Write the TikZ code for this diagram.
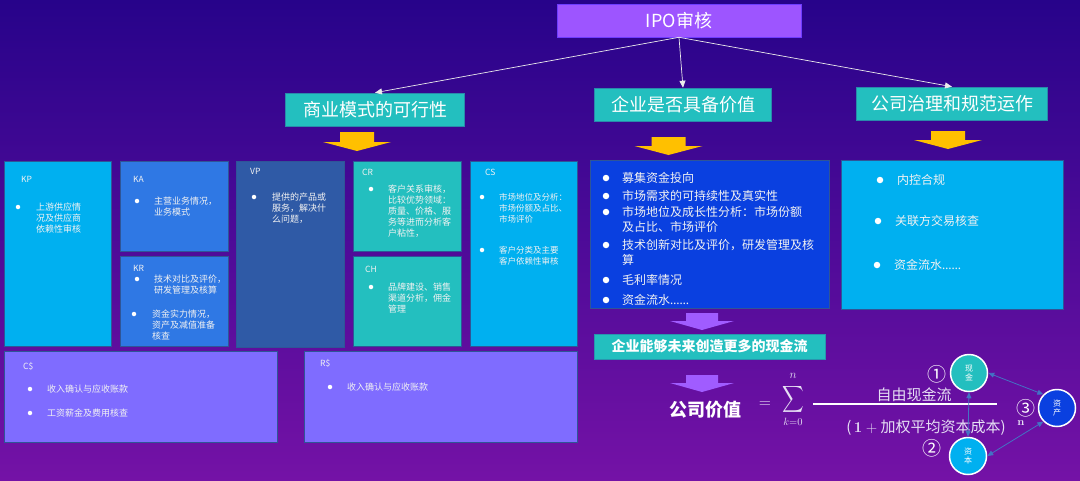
\RequirePackage{fix-cm}
\documentclass[tikz,border=0pt]{standalone}
\usepackage[no-math]{fontspec}
\usepackage{graphicx}
\setmainfont{Noto Sans CJK SC}
\newfontfamily\latfont{Noto Sans}
\usetikzlibrary{arrows.meta,shapes.geometric}
\definecolor{bgtop}{HTML}{27038A}
\definecolor{bgmid}{HTML}{2D0591}
\definecolor{bgbot}{HTML}{7412A6}
\definecolor{cipo}{HTML}{9D55FF}
\definecolor{cteal}{HTML}{23BFBF}
\definecolor{clblue}{HTML}{00B0F0}
\definecolor{cmblue}{HTML}{2F78E4}
\definecolor{csteel}{HTML}{2F5AA6}
\definecolor{cdblue}{HTML}{0A40E0}
\definecolor{cviolet}{HTML}{7F6CFF}
\definecolor{cborder}{HTML}{2F5597}
\definecolor{cgold}{HTML}{FFC000}
\definecolor{cpurple}{HTML}{A05CFF}
\definecolor{carrow}{HTML}{4472C4}
\definecolor{ctext}{HTML}{F2F2F2}
\definecolor{cform}{HTML}{E6DFF4}
\newcommand\downblk[6]{%
  \fill[#6] ({#2-#5},#3) -- ({#2+#5},#3) -- ({#2+#5},#4) -- ({#2+2*#5},#4) -- (#2,{#4+9}) -- ({#2-2*#5},#4) -- ({#2-#5},#4) -- cycle;}
\tikzset{
  box/.style={draw=cborder, line width=1pt, inner sep=0, anchor=north west},
  titlebox/.style={fill=cteal, draw=cborder!50!cteal, line width=0.6pt, text=white,
    font=\fontsize{18}{20}\selectfont, minimum height=33, inner sep=0},
  lbl/.style={anchor=west, text=ctext, font=\fontsize{8.5}{10}\selectfont, inner sep=0},
  txt/.style={anchor=north west, align=left, text=ctext, font=\fontsize{9}{11}\selectfont, inner sep=0},
  bdot/.style={circle, fill=white, inner sep=0, minimum size=4.5},
  ltxt/.style={anchor=west, text=ctext, font=\fontsize{12}{15}\selectfont, inner sep=0},
  ltxtm/.style={anchor=north west, align=left, text=ctext, font=\fontsize{12}{15}\selectfont, inner sep=0},
  ldot/.style={circle, fill=white, inner sep=0, minimum size=6.5},
  link/.style={draw=white!85!gray, line width=0.7pt, -{Triangle[width=6pt,length=7pt]}},
  cyc/.style={draw=carrow, line width=0.8pt, {Triangle[width=5pt,length=6pt]}-{Triangle[width=5pt,length=6pt]}},
  ball/.style={circle, draw=white, line width=1.5pt, minimum size=37, inner sep=0, text=white,
    font=\fontsize{8}{9.5}\selectfont, align=center},
  form/.style={text=cform, inner sep=0},
}
\begin{document}
\begin{tikzpicture}[x=1pt,y=-1pt]
\useasboundingbox (0,0) rectangle (1080,480);
\shade[top color=bgtop, middle color=bgmid, bottom color=bgbot] (0,0) rectangle (1080,480);

% top level
\node[fill=cipo, draw=cipo!70!blue, line width=0.6pt, minimum width=244, minimum height=33, inner sep=0,
  text=white, font=\fontsize{18}{20}\selectfont] (ipo) at (679,20.5) {IPO审核};
\node[titlebox, minimum width=178.5] (t1) at (375,109.5) {商业模式的可行性};
\node[titlebox, minimum width=177.5] (t2) at (683,104.5) {企业是否具备价值};
\node[titlebox, minimum width=190.5] (t3) at (952,103.5) {公司治理和规范运作};
\draw[link] (ipo.south) -- (t1.north);
\draw[link] (ipo.south) -- (t2.north);
\draw[link] (ipo.south) -- (t3.north);

% yellow arrows
\downblk{a1}{357}{132}{142}{17}{cgold}
\downblk{a2}{668.5}{137}{146}{17}{cgold}
\downblk{a3}{948}{131}{140}{17}{cgold}

% business model canvas
\node[box, fill=clblue, minimum width=107, minimum height=185] (kp) at (4,161) {};
\node[box, fill=cmblue, minimum width=108, minimum height=90] (ka) at (120,161) {};
\node[box, fill=cmblue, minimum width=108, minimum height=90] (kr) at (120,256) {};
\node[box, fill=csteel, minimum width=108, minimum height=186] (vp) at (236,161) {};
\node[box, fill=cteal, minimum width=108, minimum height=90] (cr) at (353,161) {};
\node[box, fill=cteal, minimum width=108, minimum height=90] (ch) at (353,256) {};
\node[box, fill=clblue, minimum width=107, minimum height=185] (cs) at (470,161) {};
\node[box, fill=cviolet, minimum width=273, minimum height=91] (cc) at (4,351) {};
\node[box, fill=cviolet, minimum width=273, minimum height=91] (rr) at (304,351) {};

\node[lbl] (kpl) at (21,179) {KP};
\node[bdot] (kpd) at (18,207) {};
\node[txt] (kpt) at (36,203) {上游供应情\\况及供应商\\依赖性审核};

\node[lbl] (kal) at (133,179) {KA};
\node[bdot] (kad) at (137,201) {};
\node[txt] (kat) at (154,197) {主营业务情况，\\业务模式};

\node[lbl] (krl) at (133,268) {KR};
\node[bdot] (krd1) at (137,279) {};
\node[txt] (krt1) at (154,275) {技术对比及评价，\\研发管理及核算};
\node[bdot] (krd2) at (134,314) {};
\node[txt] (krt2) at (152,310) {资金实力情况，\\资产及减值准备\\核查};

\node[lbl] (vpl) at (250,171) {VP};
\node[bdot] (vpd) at (254,197) {};
\node[txt] (vpt) at (272,193) {提供的产品或\\服务，解决什\\么问题，};

\node[lbl] (crl) at (362,172) {CR};
\node[bdot] (crd) at (371,189) {};
\node[txt] (crt) at (388,185) {客户关系审核，\\比较优势领域：\\质量、价格、服\\务等进而分析客\\户粘性，};

\node[lbl] (chl) at (365,269) {CH};
\node[bdot] (chd) at (371,287) {};
\node[txt] (cht) at (388,283) {品牌建设、销售\\渠道分析，佣金\\管理};

\node[lbl] (csl) at (485,172) {CS};
\node[bdot] (csd1) at (482,197) {};
\node[txt, font=\fontsize{8.5}{11}\selectfont] (cst1) at (499,193) {市场地位及分析：\\市场份额及占比、\\市场评价};
\node[bdot] (csd2) at (482,250) {};
\node[txt, font=\fontsize{8.5}{11}\selectfont] (cst2) at (499,246) {客户分类及主要\\客户依赖性审核};

\node[lbl] (ccl) at (23,366) {C\$};
\node[bdot] (ccd1) at (30,389) {};
\node[txt, anchor=west] (cct1) at (47,389) {收入确认与应收账款};
\node[bdot] (ccd2) at (30,413) {};
\node[txt, anchor=west] (cct2) at (47,413) {工资薪金及费用核查};

\node[lbl] (rrl) at (320,363) {R\$};
\node[bdot] (rrd) at (330,387) {};
\node[txt, anchor=west] (rrt) at (347,387) {收入确认与应收账款};

% value list
\node[box, fill=cdblue, minimum width=239, minimum height=148] (vl) at (590,160) {};
\node[ldot] (v1d) at (606,178) {};
\node[ltxt] (v1) at (622,178) {募集资金投向};
\node[ldot] (v2d) at (606,196) {};
\node[ltxt] (v2) at (622,196) {市场需求的可持续性及真实性};
\node[ldot] (v3d) at (606,212) {};
\node[ltxtm] (v3) at (622,206.5) {市场地位及成长性分析：市场份额\\及占比、市场评价};
\node[ldot] (v4d) at (606,245) {};
\node[ltxtm] (v4) at (622,239.5) {技术创新对比及评价，研发管理及核\\算};
\node[ldot] (v5d) at (606,280) {};
\node[ltxt] (v5) at (622,280) {毛利率情况};
\node[ldot] (v6d) at (606,300) {};
\node[ltxt] (v6) at (622,300) {资金流水{\latfont ……}};

% governance list
\node[box, fill=clblue, minimum width=222, minimum height=149] (gl) at (841,160) {};
\node[ldot] (g1d) at (880,180) {};
\node[ltxt] (g1) at (897,180) {内控合规};
\node[ldot] (g2d) at (878,221) {};
\node[ltxt] (g2) at (895,221) {关联方交易核查};
\node[ldot] (g3d) at (877,265) {};
\node[ltxt] (g3) at (894,265) {资金流水{\latfont ……}};

% purple arrows and cash flow bar
\downblk{p1}{702}{313}{321}{16}{cpurple}
\node[fill=cteal, draw=cborder!40!cteal, line width=0.6pt, minimum width=231, minimum height=25, inner sep=0,
  text=white, font=\bfseries\fontsize{14}{16}\selectfont] (cf) at (709.5,346.5) {企业能够未来创造更多的现金流};
\downblk{p2}{702}{375}{383}{16}{cpurple}

% formula
\node[text=white, font=\bfseries\fontsize{18}{20}\selectfont, inner sep=0] (cv) at (705,410) {公司价值};
\node[form, font=\fontsize{16}{18}\selectfont] (eq) at (765,405) {$=$};
\node[form, font=\fontsize{10}{12}\selectfont] (sig) at (793,399) {\scalebox{1.5}[1.85]{$\displaystyle\sum$}};
\node[form, font=\fontsize{12}{13}\selectfont] (sn) at (793,376) {$n$};
\node[form, font=\fontsize{10.5}{12}\selectfont] (sk) at (793,422) {$k{=}0$};
\draw[white, line width=2pt] (813,404) -- (997,404);
\node[form, font=\fontsize{15}{17}\selectfont] (num) at (914,395) {自由现金流};
\node[form, font=\fontsize{15}{17}\selectfont] (den) at (926,428) {(\,$\mathbf{1} + {}$加权平均资本成本)};
\node[form, font=\fontsize{11}{12}\selectfont] (pw) at (1021,423) {$\mathbf{n}$};

% cycle
\node[ball, fill=cteal] (c1) at (969,373) {现\\金};
\node[ball, fill=cdblue] (c3) at (1057,408) {资\\产};
\node[ball, fill=clblue] (c2) at (968,456) {资\\本};
\node[form, text=white, font=\fontsize{19}{20}\selectfont] (n1) at (937,374) {①};
\node[form, text=white, font=\fontsize{19}{20}\selectfont] (n2) at (932,448) {②};
\node[form, text=white, font=\fontsize{19}{20}\selectfont] (n3) at (1026,408) {③};
\draw[cyc] (c1.east) -- (c3.north west);
\draw[cyc] (c3.south west) -- (c2.east);
\draw[cyc] (c1.south) -- (c2.north);
\end{tikzpicture}
\end{document}
